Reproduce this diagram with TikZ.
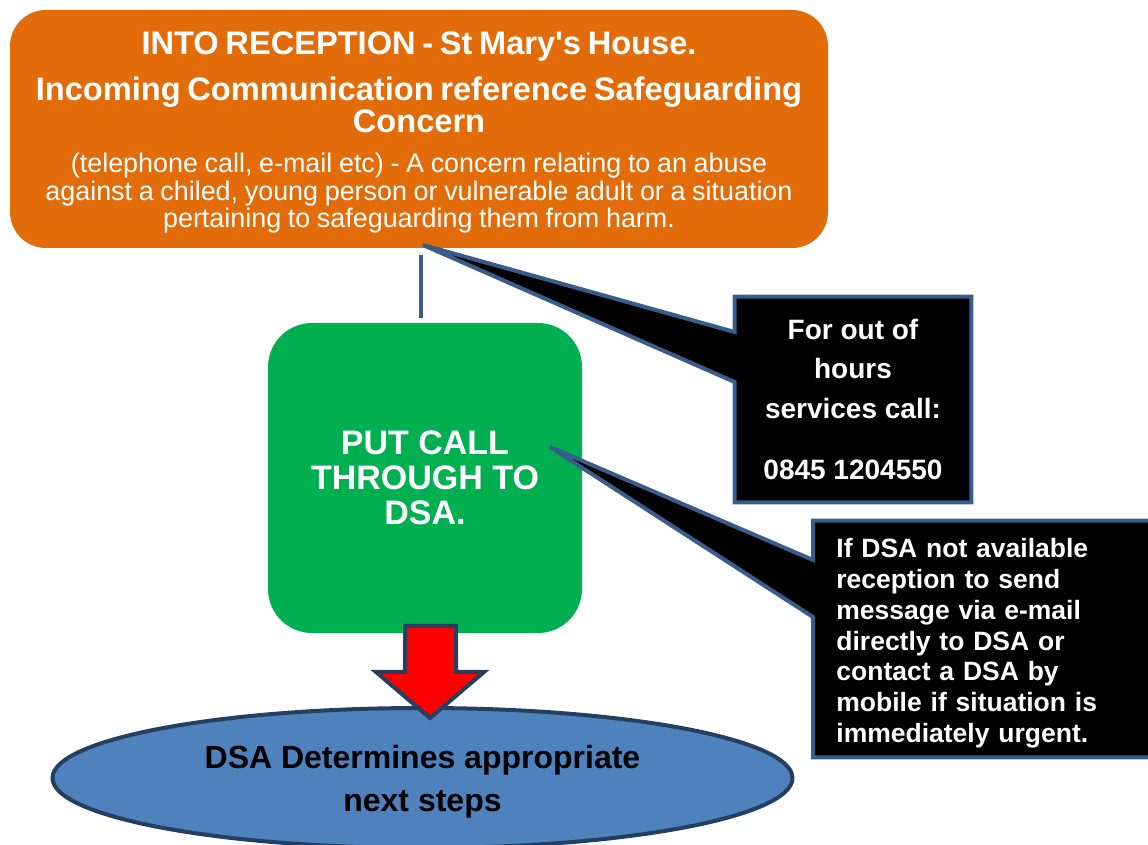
\documentclass[tikz,border=0pt]{standalone}
\usepackage{fontspec}
\setmainfont{Liberation Sans}
\usetikzlibrary{shapes.geometric}
\setlength{\parindent}{0pt}

\definecolor{intakeorange}{HTML}{E36C0A}
\definecolor{dsagreen}{HTML}{00B050}
\definecolor{stepblue}{HTML}{4F81BD}
\definecolor{edgeblue}{HTML}{385D8A}
\definecolor{darkblue}{HTML}{243F60}

\pgfdeclarelayer{back}
\pgfdeclarelayer{mid}
\pgfsetlayers{back,mid,main}

\tikzset{
  intakebox/.style={rectangle, rounded corners=18pt, fill=intakeorange, text=white,
    minimum width=409pt, minimum height=119pt, text width=404pt, align=center, inner sep=0pt},
  dsabox/.style={rectangle, rounded corners=22pt, fill=dsagreen, text=white,
    minimum width=157pt, minimum height=155pt, align=center, inner sep=0pt,
    font=\fontsize{17}{17.5}\selectfont\bfseries},
  notebox/.style={rectangle, inner sep=0pt, text=white},
  calloutline/.style={fill=black, draw=edgeblue, line width=2pt},
  nextstep/.style={ellipse, fill=stepblue, draw=darkblue, line width=2pt,
    minimum width=370pt, minimum height=70pt, inner sep=0pt, align=center,
    font=\fontsize{16}{21.5}\selectfont\bfseries},
  link/.style={draw=edgeblue, line width=2pt, shorten <=3.5pt, shorten >=2.5pt},
  pusharrow/.style={fill=red, draw=darkblue, line width=2pt}
}

\newcommand{\titlefont}{\fontsize{16.3}{16}\selectfont\bfseries}
\newcommand{\notefont}{\fontsize{13.45}{13.75}\selectfont}

\begin{document}
\begin{tikzpicture}[x=0.5pt, y=-0.5pt]
  \useasboundingbox (0,0) rectangle (1148,845);

  \begin{pgfonlayer}{back}
    \node[intakebox] (intake) at (419,129) {%
      {\titlefont\rule{0pt}{15pt}INTO RECEPTION - St Mary\textquotesingle s House.\par}\vspace{7pt}
      {\titlefont Incoming Communication reference Safeguarding\\ Concern\par}\vspace{6.5pt}
      {\notefont (telephone call, e-mail etc) - A concern relating to an abuse\\
        against a chiled, young person or vulnerable adult or a situation\\
        pertaining to safeguarding them from harm.\par}};

    \node[dsabox] (dsa) at (425,478) {PUT CALL\\ THROUGH TO\\ DSA.};

    \node[nextstep] (next) at (422.5,778) {\rule{0pt}{15.5pt}DSA Determines appropriate\\ next steps};
  \end{pgfonlayer}

  \draw[link] ([xshift=1pt]intake.south) -- ([xshift=1pt]intake.south |- dsa.north);

  % out of hours note
  \node[notebox, minimum width=118pt, minimum height=102.5pt, align=center,
    font=\fontsize{14}{19.75}\selectfont\bfseries] (hours) at (853,399.5)
    {For out of\\ hours\\ services call:\\[11pt] 0845 1204550};
  \coordinate (tipA) at (423,245);

  % DSA not available note
  \node[notebox, anchor=west, text width=160pt, inner xsep=11.5pt, minimum height=118pt,
    align=left, font=\fontsize{13.25}{15.4}\selectfont\bfseries] (unavail) at (813,639)
    {\rule{0pt}{14pt}If DSA not available\\ reception to send\\ message via e-mail\\ directly to DSA or\\
     contact a DSA by\\ mobile if situation is\\ immediately urgent.};
  \coordinate (tipB) at (550,447);

  \begin{pgfonlayer}{mid}
    \draw[calloutline] (hours.north west) -- (hours.north east) -- (hours.south east)
      -- (hours.south west) -- (hours.west |- 0,382) -- (tipA) -- (hours.west |- 0,332) -- cycle;
    \draw[calloutline] (unavail.north west) -- (unavail.north east) -- (unavail.south east)
      -- (unavail.south west) -- (unavail.west |- 0,617) -- (tipB) -- (unavail.west |- 0,560) -- cycle;
  \end{pgfonlayer}

  \draw[pusharrow] (405,626) -- (456,626) -- (456,672) -- (484,672) -- (430,718)
    -- (376,672) -- (405,672) -- cycle;

\end{tikzpicture}
\end{document}
